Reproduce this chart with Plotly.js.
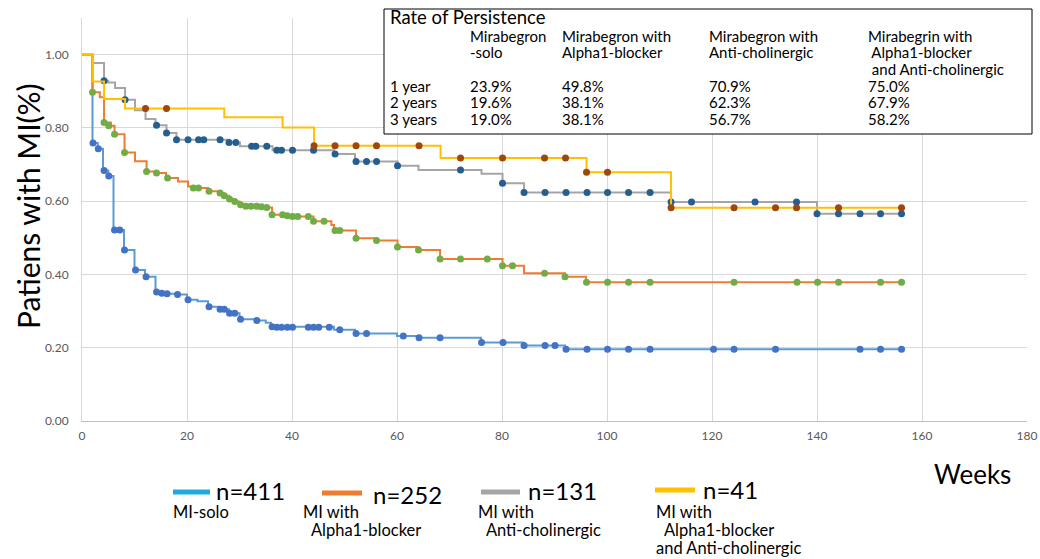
<!DOCTYPE html>
<html>
<head>
<meta charset="utf-8">
<script src="https://cdn.plot.ly/plotly-3.0.1.min.js"></script>
<style>html,body{margin:0;padding:0;background:#fff;}#chart{width:1040px;height:559px;}</style>
</head>
<body>
<div id="chart"></div>
<script>
// ---------- DATA ----------
// MI-solo (n=411)
const soloT = [0, 2, 3, 4, 5, 6, 8, 10, 12, 14, 15, 16, 18, 20, 22, 24, 26, 28, 30, 33, 35, 36, 48, 52, 60, 64, 76, 84, 92, 156];
const soloS = [1.0, 0.759, 0.743, 0.684, 0.669, 0.521, 0.467, 0.412, 0.394, 0.352, 0.349, 0.347, 0.345, 0.331, 0.327, 0.312, 0.305, 0.294, 0.278, 0.274, 0.268, 0.257, 0.249, 0.239, 0.232, 0.227, 0.214, 0.206, 0.196, 0.196];
const soloCensT = [2.1, 3.1, 4.2, 5.1, 6.2, 7.2, 8.1, 10.2, 12.2, 14.2, 15.2, 16.2, 18.2, 20.2, 24.2, 26.3, 27.1, 28.1, 29.1, 30.2, 33.3, 36.2, 37.1, 38, 39.1, 40.1, 43.1, 44.1, 45.1, 47.1, 49.1, 52.2, 54.2, 61.2, 64.2, 68.2, 76.1, 80.2, 84.2, 88.2, 90.1, 92.2, 96.2, 100.1, 104.1, 108.2, 120.3, 124.2, 132.1, 148.2, 152.1, 156.1];
const soloCensS = [0.759, 0.743, 0.684, 0.669, 0.521, 0.521, 0.467, 0.412, 0.394, 0.352, 0.349, 0.347, 0.345, 0.331, 0.312, 0.305, 0.305, 0.294, 0.294, 0.278, 0.274, 0.257, 0.256, 0.256, 0.256, 0.256, 0.256, 0.256, 0.256, 0.256, 0.249, 0.239, 0.239, 0.232, 0.227, 0.227, 0.214, 0.214, 0.206, 0.206, 0.206, 0.196, 0.196, 0.196, 0.196, 0.196, 0.196, 0.196, 0.196, 0.196, 0.196, 0.196];

// MI with Alpha1-blocker (n=252)
const alphaT = [0, 2, 3.4, 4.2, 5.5, 6.2, 8.1, 10.1, 12.3, 14.2, 16, 18.3, 20.2, 22, 24, 26, 27, 28, 29, 30, 32, 35, 36.2, 41, 44.1, 47.5, 48, 52.2, 56, 60.1, 64.1, 68.2, 80.1, 84.2, 92, 96, 156];
const alphaS = [1.0, 0.897, 0.884, 0.815, 0.806, 0.783, 0.733, 0.709, 0.681, 0.677, 0.663, 0.654, 0.640, 0.636, 0.627, 0.622, 0.615, 0.606, 0.599, 0.590, 0.586, 0.583, 0.563, 0.558, 0.545, 0.535, 0.520, 0.499, 0.493, 0.475, 0.467, 0.442, 0.4235, 0.4035, 0.394, 0.379, 0.379];
const alphaCensT = [2, 4.2, 5.1, 6.2, 8.1, 12.3, 14.2, 16.3, 21.2, 22.2, 24.2, 26.3, 27.1, 28.1, 29.1, 30.2, 31.2, 32.2, 33.3, 34.2, 35.2, 36.2, 38.2, 39.1, 40.1, 41.1, 43.1, 44.1, 46.1, 48.2, 49.1, 52.2, 56.1, 60.1, 64.1, 68.2, 72.1, 77.2, 80.1, 82, 88.1, 92, 96.1, 100.1, 104.1, 108.2, 124.2, 136.2, 140.1, 144.1, 152.1, 156.1];
const alphaCensS = [0.897, 0.815, 0.806, 0.783, 0.733, 0.681, 0.677, 0.663, 0.636, 0.636, 0.627, 0.622, 0.615, 0.606, 0.599, 0.590, 0.586, 0.586, 0.586, 0.585, 0.583, 0.563, 0.563, 0.560, 0.558, 0.558, 0.558, 0.545, 0.545, 0.520, 0.520, 0.499, 0.493, 0.475, 0.467, 0.442, 0.442, 0.442, 0.4235, 0.4235, 0.4035, 0.394, 0.379, 0.379, 0.379, 0.379, 0.379, 0.379, 0.379, 0.379, 0.379, 0.379];

// MI with Anti-cholinergic (n=131)
const antiT = [0, 2.1, 4.2, 5, 6.3, 8.2, 10.1, 12.1, 14, 16.1, 18, 28, 30.1, 36.3, 48, 52, 60.1, 64.1, 76.1, 80.1, 84.2, 112.2, 140, 156];
const antiS = [1.0, 0.977, 0.929, 0.924, 0.909, 0.877, 0.848, 0.824, 0.807, 0.786, 0.768, 0.760, 0.750, 0.739, 0.729, 0.708, 0.697, 0.685, 0.675, 0.649, 0.624, 0.598, 0.566, 0.566];
const antiCensT = [4.2, 8.2, 14.2, 16.1, 18, 20.2, 22.2, 23.2, 26.3, 28, 29.3, 32.3, 33.1, 35.2, 37.1, 38, 40.1, 44.1, 48.2, 52.2, 54.2, 56.1, 60.1, 72.1, 80.1, 84.2, 88.2, 92.2, 96.2, 100.1, 104.1, 108.2, 112.2, 116.1, 128.2, 136.1, 140, 144.1, 148.2, 152.1, 156.1];
const antiCensS = [0.929, 0.877, 0.807, 0.786, 0.768, 0.768, 0.768, 0.768, 0.768, 0.760, 0.760, 0.750, 0.750, 0.750, 0.739, 0.739, 0.739, 0.739, 0.729, 0.708, 0.708, 0.708, 0.697, 0.685, 0.649, 0.624, 0.624, 0.624, 0.624, 0.624, 0.624, 0.624, 0.598, 0.598, 0.598, 0.598, 0.566, 0.566, 0.566, 0.566, 0.566];

// MI with Alpha1-blocker and Anti-cholinergic (n=41)
const comboT = [0, 2.1, 4.2, 8.2, 27.1, 38.2, 44.2, 68.3, 96.1, 112.2, 156];
const comboS = [1.0, 0.927, 0.879, 0.853, 0.829, 0.801, 0.751, 0.718, 0.679, 0.582, 0.582];
const comboCensT = [12.1, 16.1, 44.2, 48.2, 52.2, 56.1, 64.2, 72.1, 80.1, 88.1, 92.1, 96.1, 100.1, 112.2, 124.2, 132.1, 136.1, 144.1, 156.1];
const comboCensS = [0.853, 0.853, 0.751, 0.751, 0.751, 0.751, 0.751, 0.718, 0.718, 0.718, 0.718, 0.679, 0.679, 0.582, 0.582, 0.582, 0.582, 0.582, 0.582];

// Legend labels
const legendN = ["n=411", "n=252", "n=131", "n=41"];
const legendDesc = [["MI-solo"], ["MI with", " Alpha1-blocker"], ["MI with", " Anti-cholinergic"], ["MI with", " Alpha1-blocker", "and Anti-cholinergic"]];

// Persistence table
const tableTitle = "Rate of Persistence";
const tableHeaders = [["Mirabegron", "-solo"], ["Mirabegron with", "Alpha1-blocker"], ["Mirabegron with", "Anti-cholinergic"], ["Mirabegrin with", " Alpha1-blocker", " and Anti-cholinergic"]];
const tableRows = ["1 year", "2 years", "3 years"];
const tableSolo = ["23.9%", "19.6%", "19.0%"];
const tableAlpha = ["49.8%", "38.1%", "38.1%"];
const tableAnti = ["70.9%", "62.3%", "56.7%"];
const tableCombo = ["75.0%", "67.9%", "58.2%"];

const xTitle = "Weeks";
const yTitle = "Patiens with MI(%)";

// ---------- STYLE ----------
const lineColors = ["#5B9BD5", "#ED7D31", "#A5A5A5", "#FFC000"];
const markColors = ["#4472C4", "#70AD47", "#255E91", "#9E480E"];
const legendColors = ["#1BAAE2", "#ED7D31", "#A5A5A5", "#FFC000"];
const FONT = "Lato, 'Noto Sans', sans-serif";

const series = [
  [soloT, soloS, soloCensT, soloCensS],
  [alphaT, alphaS, alphaCensT, alphaCensS],
  [antiT, antiS, antiCensT, antiCensS],
  [comboT, comboS, comboCensT, comboCensS]
];

const traces = [];
series.forEach((s, i) => {
  traces.push({x: s[0], y: s[1], type: "scatter", mode: "lines", line: {shape: "hv", color: lineColors[i], width: 2}, showlegend: false, hoverinfo: "skip"});
  traces.push({x: s[2], y: s[3], type: "scatter", mode: "markers", marker: {color: markColors[i], size: 7}, showlegend: false});
});

// plot area in pixels
const L = 82, R = 1027, T = 18, B = 421;
const px = v => (v - L) / (R - L);
const py = v => (B - v) / (B - T);

const annotations = [];
const shapes = [];
function txt(text, x, y, size, anchor, angle) {
  annotations.push({text: text, xref: "paper", yref: "paper", x: px(x), y: py(y), xanchor: anchor || "left", yanchor: "middle",
    showarrow: false, borderpad: 0, textangle: angle || 0, font: {family: FONT, size: size, color: "#000"}});
}

// table
shapes.push({type: "rect", xref: "paper", yref: "paper", x0: px(384), x1: px(1032), y0: py(134), y1: py(9), line: {color: "#000", width: 1}, fillcolor: "#fff", layer: "above"});
txt(tableTitle, 389, 17, 18.5);
const colX = [469, 561, 708, 867];
const hdrY = [36, 52, 69];
tableHeaders.forEach((h, c) => h.forEach((line, k) => txt(line.replace(/^ /, "\u00a0"), colX[c], hdrY[k], 15)));
const rowY = [86, 102, 119];
const cols = [tableSolo, tableAlpha, tableAnti, tableCombo];
tableRows.forEach((r, k) => {
  txt(r, 389, rowY[k], 15);
  cols.forEach((col, c) => txt(col[k], colX[c], rowY[k], 15));
});

// legend
const legLineX = [[173, 210], [322, 362], [481, 520], [655, 695]];
const legLineY = [492, 493, 492, 490];
const legNX = [215, 372, 527, 702];
const legNY = [490, 494, 490, 489];
const legDescX = [172, 302, 477, 655];
legendN.forEach((n, i) => {
  shapes.push({type: "line", xref: "paper", yref: "paper", x0: px(legLineX[i][0]), x1: px(legLineX[i][1]), y0: py(legLineY[i]), y1: py(legLineY[i]), line: {color: legendColors[i], width: 5}});
  txt(n, legNX[i], legNY[i], 24);
  legendDesc[i].forEach((d, k) => txt(d.replace(/^ /, "\u00a0\u00a0"), legDescX[i], 512 + k * 18, 16.5));
});
txt(xTitle, 972, 474, 26, "center");
txt(yTitle, 28, 206, 30, "center", -90);

const layout = {
  width: 1040, height: 559,
  margin: {l: L, r: 1040 - R, t: T, b: 559 - B},
  paper_bgcolor: "#fff", plot_bgcolor: "#fff",
  showlegend: false,
  xaxis: {range: [0, 180], dtick: 20, tick0: 0, showgrid: true, gridcolor: "#D9D9D9", gridwidth: 1, zeroline: false,
          showline: true, linecolor: "#BFBFBF", ticks: "", ticklabelstandoff: 4, tickfont: {family: FONT, size: 12, color: "#595959"}, fixedrange: true},
  yaxis: {range: [0, 1.1], dtick: 0.2, tick0: 0, tickformat: ".2f", showgrid: true, gridcolor: "#D9D9D9", gridwidth: 1, zeroline: false,
          showline: true, linecolor: "#D9D9D9", ticks: "", ticklabelstandoff: 10, tickfont: {family: FONT, size: 12, color: "#595959"}, fixedrange: true},
  annotations: annotations,
  shapes: shapes
};

Plotly.newPlot("chart", traces, layout, {displayModeBar: false, staticPlot: true});
</script>
</body>
</html>
